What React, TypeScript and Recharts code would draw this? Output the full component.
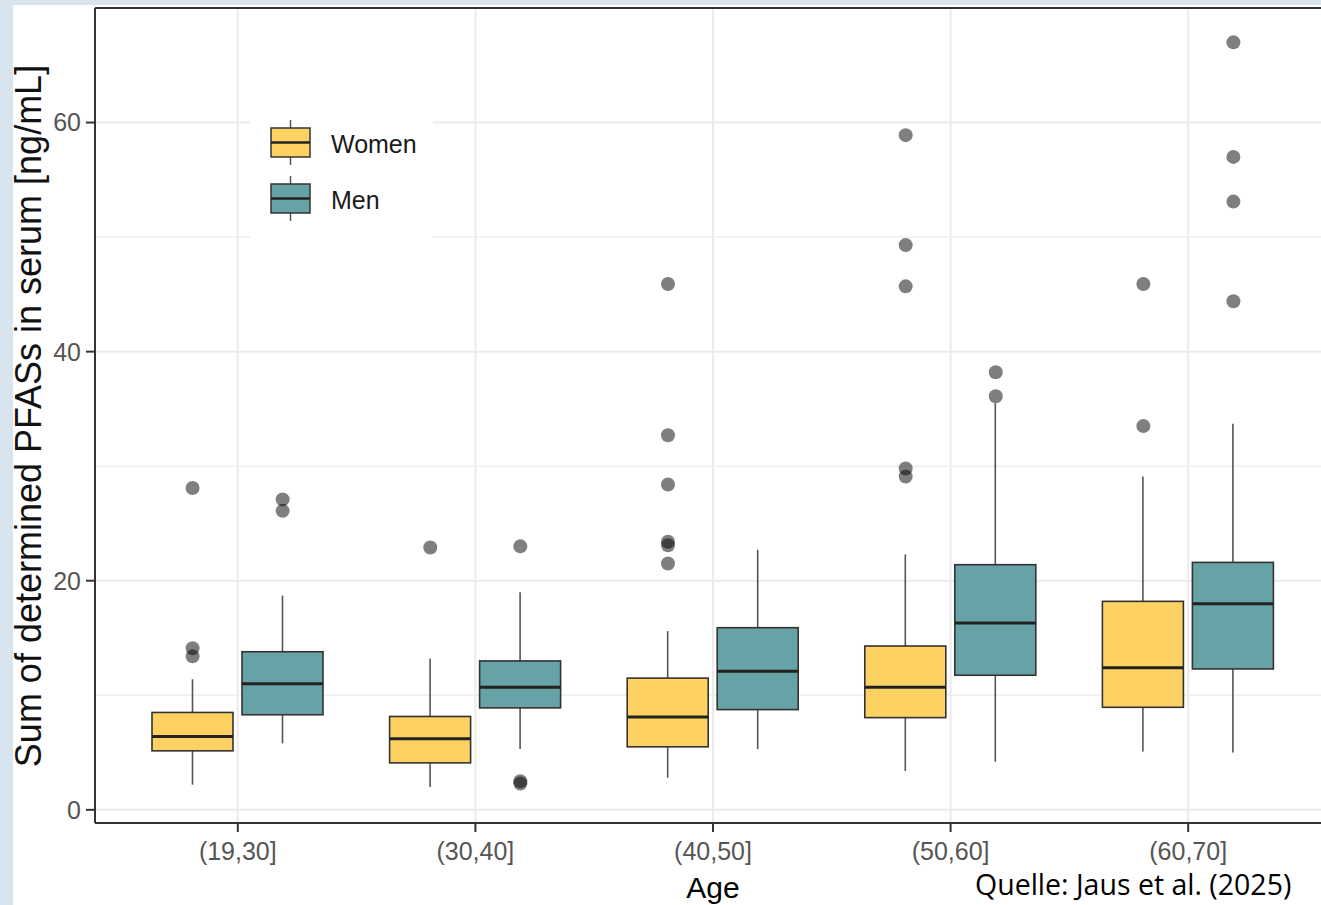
import {
  Bar,
  CartesianGrid,
  ComposedChart,
  Legend,
  ReferenceLine,
  Scatter,
  XAxis,
  YAxis,
} from "recharts"

// age classes on the x axis
const ageGroups = ["(19,30]", "(30,40]", "(40,50]", "(50,60]", "(60,70]"]

// women: whisker ends, quartiles, median (ng/mL)
const womenLow = [2.2, 2.0, 2.8, 3.4, 5.1]
const womenQ1 = [5.15, 4.1, 5.5, 8.05, 8.95]
const womenMedian = [6.4, 6.2, 8.1, 10.7, 12.4]
const womenQ3 = [8.5, 8.15, 11.5, 14.3, 18.2]
const womenHigh = [11.4, 13.2, 15.6, 22.3, 29.1]

// men
const menLow = [5.8, 5.3, 5.3, 4.2, 5.0]
const menQ1 = [8.3, 8.9, 8.75, 11.75, 12.3]
const menMedian = [11.0, 10.7, 12.1, 16.3, 18.0]
const menQ3 = [13.8, 13.0, 15.9, 21.4, 21.6]
const menHigh = [18.7, 19.0, 22.7, 35.5, 33.7]

// outliers per age class
const womenOutliers = [
  [28.1, 14.1, 13.4],
  [22.9],
  [45.9, 32.7, 28.4, 23.4, 23.1, 21.5],
  [58.9, 49.3, 45.7, 29.8, 29.1],
  [45.9, 33.5],
]
const menOutliers = [
  [27.1, 26.1],
  [23.0, 2.5, 2.3],
  [],
  [38.2, 36.1],
  [67.0, 57.0, 53.1, 44.4],
]

const yTicks = [0, 20, 40, 60]
const yMinor = [10, 30, 50]

const ink = "#333333"
const womenFill = "#fdd262"
const menFill = "#66a2a6"
const font = "'Liberation Sans', Arial, Helvetica, sans-serif"

const data = ageGroups.map((age, i) => ({
  age,
  women: [womenLow[i], womenHigh[i]],
  womenBox: [womenQ1[i], womenMedian[i], womenQ3[i]],
  men: [menLow[i], menHigh[i]],
  menBox: [menQ1[i], menMedian[i], menQ3[i]],
}))

// dodge offset of the two boxes, in category units
const dodge = 0.1894
const outliers = ageGroups.flatMap((_, i) => [
  ...womenOutliers[i].map((v) => ({ pos: i - dodge, value: v })),
  ...menOutliers[i].map((v) => ({ pos: i + dodge, value: v })),
])

function makeBox(rangeKey: string, boxKey: string, fill: string) {
  return function BoxShape(props: any) {
    const { x, y, width, height, payload } = props
    const [lo, hi] = payload[rangeKey]
    const [q1, med, q3] = payload[boxKey]
    const top = Math.min(y, y + height)
    const span = Math.abs(height)
    const py = (v: number) => top + ((hi - v) / (hi - lo)) * span
    const cx = x + width / 2
    return (
      <g>
        <line x1={cx} x2={cx} y1={top} y2={py(q3)} stroke="#555" strokeWidth={1.6} />
        <line x1={cx} x2={cx} y1={py(q1)} y2={top + span} stroke="#555" strokeWidth={1.6} />
        <rect
          x={x}
          y={py(q3)}
          width={width}
          height={py(q1) - py(q3)}
          fill={fill}
          stroke={ink}
          strokeWidth={1.6}
        />
        <line x1={x} x2={x + width} y1={py(med)} y2={py(med)} stroke="#222" strokeWidth={3} />
      </g>
    )
  }
}

function LegendBox() {
  const keys = [
    { label: "Women", fill: womenFill },
    { label: "Men", fill: menFill },
  ]
  return (
    <svg width={183} height={150} style={{ display: "block", background: "#fff" }}>
      {keys.map((k, i) => {
        const y0 = 25 + i * 56
        return (
          <g key={k.label}>
            <line x1={40.5} x2={40.5} y1={y0} y2={y0 + 45} stroke="#555" strokeWidth={1.5} />
            <rect x={21} y={y0 + 8} width={39} height={29} fill={k.fill} stroke={ink} strokeWidth={1.5} />
            <line x1={21} x2={60} y1={y0 + 22.5} y2={y0 + 22.5} stroke="#222" strokeWidth={2.5} />
            <text x={81} y={y0 + 33} fontSize={25} fill="#1a1a1a" fontFamily={font}>
              {k.label}
            </text>
          </g>
        )
      })}
    </svg>
  )
}

export default function App() {
  return (
    <div
      style={{
        position: "absolute",
        left: 0,
        top: 0,
        width: 1321,
        height: 905,
        overflow: "hidden",
        background: "#d8e4ee",
      }}
    >
      <div style={{ position: "absolute", left: 13, top: 5, right: 0, bottom: 0, background: "#fff" }} />
      <div style={{ position: "absolute", left: 0, top: 0 }}>
        <ComposedChart
          width={1331}
          height={905}
          data={data}
          margin={{ top: 8, right: 0, bottom: 0, left: 0 }}
          barSize={81}
          barGap={9}
        >
          <CartesianGrid stroke="#ebebeb" strokeWidth={2} horizontalValues={yTicks} />
          <CartesianGrid stroke="#eeeeee" strokeWidth={1.5} vertical={false} horizontalValues={yMinor} />
          <XAxis
            dataKey="age"
            height={82}
            padding={{ left: 24, right: 24 }}
            tickSize={9}
            tickMargin={10}
            axisLine={{ stroke: ink, strokeWidth: 2 }}
            tickLine={{ stroke: ink, strokeWidth: 2 }}
            tick={{ fill: "#555", fontSize: 25, fontFamily: font }}
            label={() => (
              <g>
                <text x={713} y={898} textAnchor="middle" fontSize={30} fill="#000" fontFamily={font}>
                  Age
                </text>
                <text x={975} y={895} fontSize={28.5} fill="#000" fontFamily="'Open Sans', 'Noto Sans', sans-serif">
                  Quelle: Jaus et al. (2025)
                </text>
              </g>
            )}
          />
          <XAxis xAxisId="pos" type="number" dataKey="pos" domain={[-0.6, 4.6]} hide />
          <YAxis
            width={95}
            domain={[-1.15, 70]}
            ticks={yTicks}
            tickSize={9}
            tickMargin={5}
            axisLine={{ stroke: ink, strokeWidth: 2 }}
            tickLine={{ stroke: ink, strokeWidth: 2 }}
            tick={{ fill: "#555", fontSize: 25, fontFamily: font }}
            label={() => (
              <text
                x={41}
                y={416}
                transform="rotate(-90 41 416)"
                textAnchor="middle"
                fontSize={36}
                fill="#111"
                fontFamily={font}
              >
                Sum of determined PFASs in serum [ng/mL]
              </text>
            )}
          />
          <ReferenceLine y={70} stroke={ink} strokeWidth={2} ifOverflow="visible" />
          <Bar dataKey="women" shape={makeBox("women", "womenBox", womenFill)} isAnimationActive={false} />
          <Bar dataKey="men" shape={makeBox("men", "menBox", menFill)} isAnimationActive={false} />
          <Scatter
            xAxisId="pos"
            data={outliers}
            dataKey="value"
            shape={(p: any) => <circle cx={p.cx} cy={p.cy} r={7} fill="#000" fillOpacity={0.5} />}
            isAnimationActive={false}
          />
          <Legend
            layout="vertical"
            align="center"
            verticalAlign="middle"
            width={183}
            height={150}
            wrapperStyle={{ left: 250, top: 95, width: 183, height: 150 }}
            content={() => <LegendBox />}
          />
        </ComposedChart>
      </div>
    </div>
  )
}
